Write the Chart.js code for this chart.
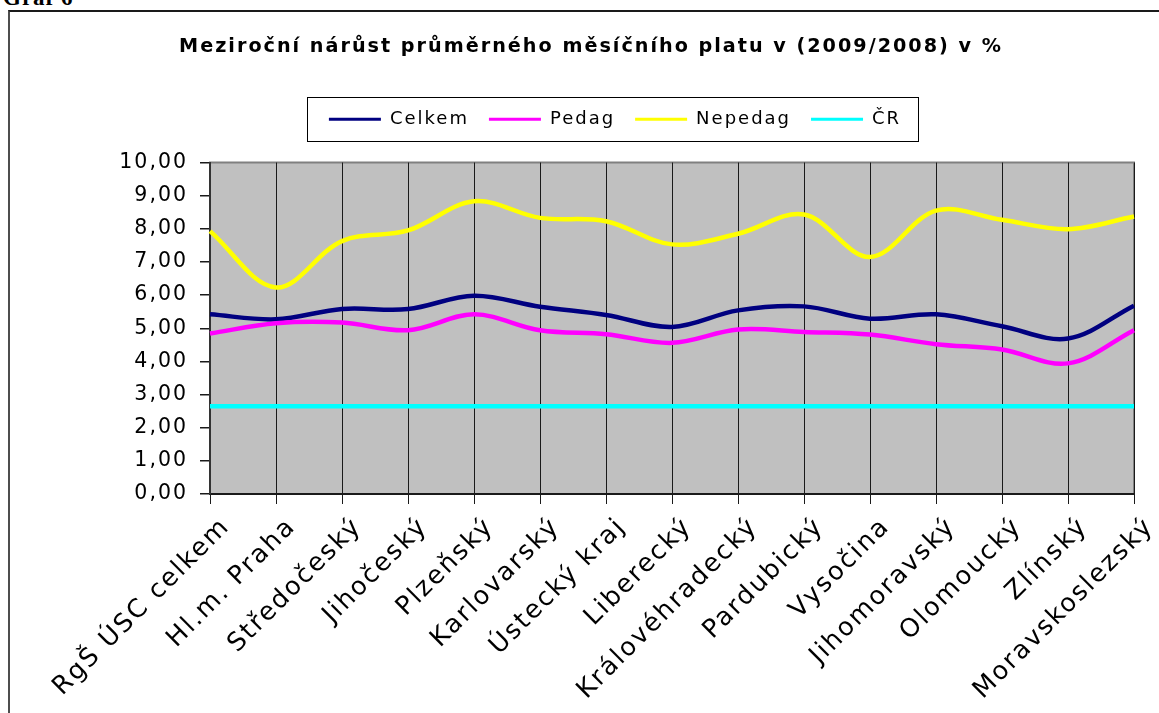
<!DOCTYPE html>
<html>
<head>
<meta charset="utf-8">
<script src="https://cdn.jsdelivr.net/npm/chart.js@4/dist/chart.umd.min.js"></script>
<style>
html,body{margin:0;padding:0;background:#fff;overflow:hidden;width:1159px;height:713px;}
#frame{position:absolute;left:8px;top:10px;width:1200px;height:800px;border-left:2px solid #4d4d4d;border-top:2px solid #1a1a1a;}
#graf{position:absolute;left:3px;top:-14px;margin:0;font:bold 23px "Liberation Serif","Times New Roman",serif;line-height:23px;letter-spacing:1px;color:#000;}
#c{position:absolute;left:0;top:0;}
</style>
</head>
<body>
<div id="graf">Graf 6</div>
<div id="frame"></div>
<canvas id="c" width="1166" height="713"></canvas>
<script>
const titleText = 'Meziroční nárůst průměrného měsíčního platu v (2009/2008) v %';
const categories = ['RgŠ ÚSC celkem', 'Hl.m. Praha', 'Středočeský', 'Jihočeský', 'Plzeňský', 'Karlovarský', 'Ústecký kraj', 'Liberecký', 'Královéhradecký', 'Pardubický', 'Vysočina', 'Jihomoravský', 'Olomoucký', 'Zlínský', 'Moravskoslezský'];
const seriesNames = ['Celkem', 'Pedag', 'Nepedag', 'ČR'];
const celkem  = [5.42, 5.27, 5.58, 5.58, 5.98, 5.65, 5.40, 5.04, 5.54, 5.66, 5.29, 5.42, 5.06, 4.69, 5.68];
const pedag   = [4.84, 5.15, 5.17, 4.94, 5.42, 4.94, 4.82, 4.56, 4.96, 4.89, 4.81, 4.52, 4.36, 3.94, 4.94];
const nepedag = [7.93, 6.23, 7.63, 7.95, 8.83, 8.33, 8.23, 7.53, 7.85, 8.43, 7.15, 8.55, 8.27, 7.99, 8.37];
const cr      = [2.65, 2.65, 2.65, 2.65, 2.65, 2.65, 2.65, 2.65, 2.65, 2.65, 2.65, 2.65, 2.65, 2.65, 2.65];
const yTickLabels = ['0,00', '1,00', '2,00', '3,00', '4,00', '5,00', '6,00', '7,00', '8,00', '9,00', '10,00'];
const colors = ['#000080', '#FF00FF', '#FFFF00', '#00FFFF'];

const FONT = '"DejaVu Sans", Verdana, sans-serif';
Chart.defaults.font.family = FONT;
Chart.defaults.color = '#000';

const SPACING = '2px';

const deco = {
  id: 'deco',
  beforeUpdate(chart) { chart.ctx.letterSpacing = SPACING; },
  beforeLayout(chart) { chart.ctx.letterSpacing = SPACING; },
  afterLayout(chart) {
    const lg = chart.legend;
    if (lg) { lg.left += 24; lg.right += 24; lg.top -= 24.25; lg.bottom -= 24.25; }
  },
  beforeDraw(chart) {
    const ctx = chart.ctx, a = chart.chartArea;
    ctx.letterSpacing = SPACING;
    ctx.save();
    ctx.fillStyle = '#C0C0C0';
    ctx.fillRect(a.left, a.top, a.right - a.left, a.bottom - a.top);
    ctx.strokeStyle = '#808080';
    ctx.lineWidth = 2;
    ctx.strokeRect(a.left, a.top, a.right - a.left, a.bottom - a.top);
    ctx.restore();
  },
  afterDraw(chart) {
    const ctx = chart.ctx;
    const hb = chart.legend.legendHitBoxes;
    if (!hb || !hb.length) return;
    const first = hb[0], last = hb[hb.length - 1];
    const cy = first.top + first.height / 2;
    const x0 = Math.round(first.left - 22) + 0.5;
    const x1 = Math.round(last.left + last.width + 17) + 0.5;
    ctx.save();
    ctx.strokeStyle = '#000';
    ctx.lineWidth = 1;
    ctx.strokeRect(x0, Math.round(cy - 22) + 0.5, x1 - x0, 44);
    ctx.restore();
  }
};

const seriesData = [celkem, pedag, nepedag, cr];
const datasets = seriesNames.map((name, i) => ({
  label: name,
  data: seriesData[i],
  borderColor: colors[i],
  backgroundColor: colors[i],
  borderWidth: 4.5,
  pointRadius: 0,
  pointHoverRadius: 0,
  tension: 0.35,
  fill: false,
  order: 4 - i
}));

new Chart(document.getElementById('c'), {
  type: 'line',
  data: { labels: categories, datasets: datasets },
  options: {
    responsive: false,
    animation: false,
    devicePixelRatio: 1,
    events: [],
    layout: { padding: { top: 20, left: 48, right: 32, bottom: 0 } },
    plugins: {
      tooltip: { enabled: false },
      title: {
        display: true,
        text: titleText,
        color: '#000',
        font: { family: FONT, size: 19.2, weight: 'bold', lineHeight: 1.2 },
        padding: { top: 15.5, bottom: 55.96 }
      },
      legend: {
        display: true,
        position: 'top',
        labels: {
          color: '#000',
          font: { family: FONT, size: 18 },
          boxWidth: 52,
          boxHeight: 3,
          padding: 20,
          sort: (a, b) => a.datasetIndex - b.datasetIndex,
          generateLabels(chart) {
            return Chart.defaults.plugins.legend.labels.generateLabels(chart).map(l => Object.assign(l, { lineWidth: 0, fillStyle: colors[l.datasetIndex] }));
          }
        }
      }
    },
    scales: {
      x: {
        type: 'category',
        offset: false,
        afterFit(scale) { scale.height = 219; },
        grid: { display: true, drawOnChartArea: true, drawTicks: true, tickLength: 10, color: '#1a1a1a', lineWidth: 1 },
        border: { display: true, color: '#1a1a1a', width: 2 },
        ticks: {
          autoSkip: false,
          minRotation: 45,
          maxRotation: 45,
          padding: 8,
          labelOffset: 16,
          color: '#000',
          font: { family: FONT, size: 25.5 }
        }
      },
      y: {
        min: 0,
        max: 10,
        afterFit(scale) { scale.width = 162; },
        grid: { drawOnChartArea: false, drawTicks: true, tickLength: 10, color: '#1a1a1a', lineWidth: 1.5 },
        border: { display: true, color: '#333', width: 2 },
        ticks: {
          stepSize: 1,
          padding: 12,
          color: '#000',
          font: { family: FONT, size: 20.5 },
          callback: (v, i) => yTickLabels[i]
        }
      }
    }
  },
  plugins: [deco]
});
</script>
</body>
</html>
